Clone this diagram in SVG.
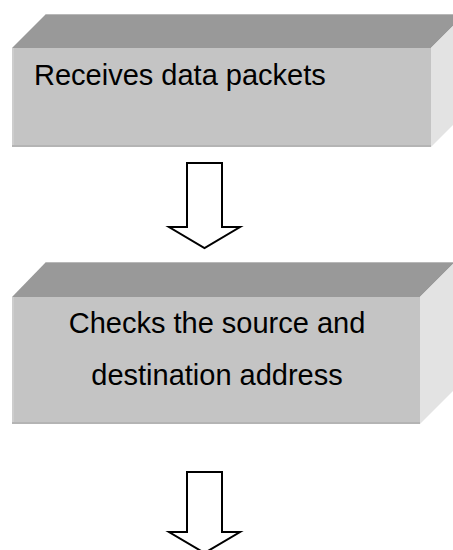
<svg xmlns="http://www.w3.org/2000/svg" width="453" height="550" viewBox="0 0 453 550">
  <style>
    .top { fill: #999999; }
    .front { fill: #c4c4c4; }
    .side { fill: #e3e3e3; }
    .hi { fill: #cdcdcd; }
    .lo { fill: #b4b4b4; }
    .label { font-family: "Liberation Sans", Arial, sans-serif; font-size: 29px; fill: #000000; }
    .arrow { fill: #ffffff; stroke: #000000; stroke-width: 2; stroke-linejoin: miter; }
  </style>
  <rect width="453" height="550" fill="#ffffff"/>

  <!-- step 1: receive -->
  <g id="box-receive">
    <polygon class="top" points="12,48 46,14 465,14 431,48"/>
    <polygon class="side" points="431,48 465,14 465,113 431,147"/>
    <rect class="front" x="12" y="48" width="419" height="99"/>
    <rect class="hi" x="12" y="48" width="2" height="99"/>
    <rect class="lo" x="12" y="145" width="419" height="2"/>
    <line x1="46" y1="14.5" x2="465" y2="14.5" stroke="#b8b8b8" stroke-width="1"/>
    <text class="label" x="34" y="85">Receives data packets</text>
  </g>

  <!-- step 2: address check -->
  <g id="box-check">
    <polygon class="top" points="12,297 46,262 455,262 420,297"/>
    <polygon class="side" points="420,297 455,262 455,389 420,424"/>
    <rect class="front" x="12" y="297" width="408" height="127"/>
    <rect class="hi" x="12" y="297" width="2" height="127"/>
    <rect class="lo" x="12" y="422" width="408" height="2"/>
    <line x1="46" y1="262.5" x2="455" y2="262.5" stroke="#b8b8b8" stroke-width="1"/>
    <text class="label" text-anchor="middle" x="217" y="333">Checks the source and</text>
    <text class="label" text-anchor="middle" x="217" y="385">destination address</text>
  </g>

  <!-- block arrows between steps -->
  <g id="connectors">
    <polygon class="arrow" points="187,163 222,163 222,227 240,227 204.5,248 169,227 187,227"/>
    <polygon class="arrow" points="187,472 222,472 222,532 240,532 204.5,553 169,532 187,532"/>
  </g>
</svg>
